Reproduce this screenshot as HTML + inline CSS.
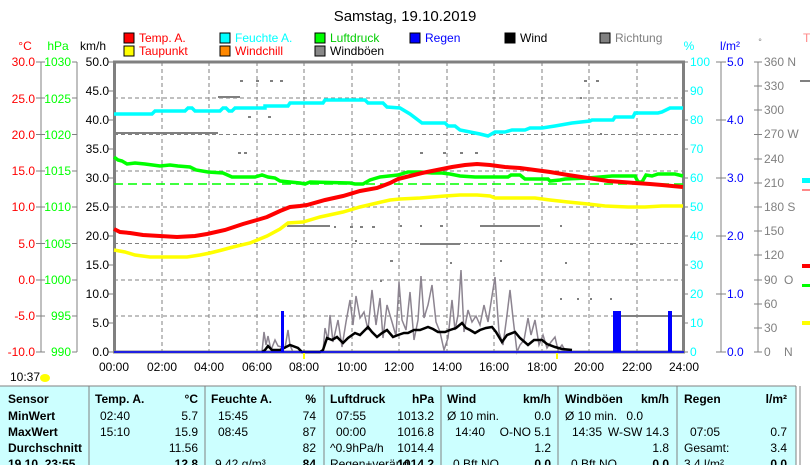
<!DOCTYPE html>
<html><head><meta charset="utf-8"><style>
html,body{margin:0;padding:0;background:#fff;width:810px;height:465px;overflow:hidden}
svg{display:block;font-family:"Liberation Sans",sans-serif}
.t{font-family:"Liberation Sans Narrow","Liberation Sans",sans-serif;font-size:12px}
.b{font-weight:bold}
</style></head><body>
<svg width="810" height="465" viewBox="0 0 810 465" xmlns="http://www.w3.org/2000/svg">
<text x="405" y="21" text-anchor="middle" font-size="15" fill="#000">Samstag, 19.10.2019</text>
<g font-size="12">
<rect x="124" y="33" width="10" height="10" fill="#f00" stroke="#000"/><text x="139" y="42" fill="#f00">Temp. A.</text>
<rect x="220" y="33" width="10" height="10" fill="#0ff" stroke="#000"/><text x="235" y="42" fill="#0ff">Feuchte A.</text>
<rect x="315" y="33" width="10" height="10" fill="#0f0" stroke="#000"/><text x="330" y="42" fill="#0c0">Luftdruck</text>
<rect x="410" y="33" width="10" height="10" fill="#00f" stroke="#000"/><text x="425" y="42" fill="#00f">Regen</text>
<rect x="505" y="33" width="10" height="10" fill="#000" stroke="#000"/><text x="520" y="42" fill="#000">Wind</text>
<rect x="600" y="33" width="10" height="10" fill="#808080" stroke="#000"/><text x="615" y="42" fill="#808080">Richtung</text>
<rect x="124" y="46" width="10" height="10" fill="#ff0" stroke="#000"/><text x="139" y="55" fill="#f00">Taupunkt</text>
<rect x="220" y="46" width="10" height="10" fill="#f80" stroke="#000"/><text x="235" y="55" fill="#f00">Windchill</text>
<rect x="315" y="46" width="10" height="10" fill="#888" stroke="#000"/><text x="330" y="55" fill="#000">Windböen</text>
<text x="25" y="50" text-anchor="middle" fill="#f00">°C</text>
<text x="58" y="50" text-anchor="middle" fill="#0f0">hPa</text>
<text x="93" y="50" text-anchor="middle" fill="#000">km/h</text>
<text x="689" y="50" text-anchor="middle" fill="#0ff">%</text>
<text x="730" y="50" text-anchor="middle" fill="#00f">l/m²</text>
<text x="760" y="45" text-anchor="middle" fill="#808080" font-size="9">°</text>
<text x="803" y="42" fill="#f88">T</text>
</g>
<g stroke="#808080" stroke-dasharray="4,3" stroke-width="1">
<line x1="114" y1="98" x2="684" y2="98"/><line x1="114" y1="134.5" x2="684" y2="134.5"/>
<line x1="114" y1="171" x2="684" y2="171"/><line x1="114" y1="207" x2="684" y2="207"/>
<line x1="114" y1="243.5" x2="684" y2="243.5"/><line x1="114" y1="280" x2="684" y2="280"/>
<line x1="114" y1="316" x2="684" y2="316"/>
<line x1="162" y1="62" x2="162" y2="352"/><line x1="209" y1="62" x2="209" y2="352"/>
<line x1="257" y1="62" x2="257" y2="352"/><line x1="304" y1="62" x2="304" y2="352"/>
<line x1="352" y1="62" x2="352" y2="352"/><line x1="399" y1="62" x2="399" y2="352"/>
<line x1="447" y1="62" x2="447" y2="352"/><line x1="494" y1="62" x2="494" y2="352"/>
<line x1="542" y1="62" x2="542" y2="352"/><line x1="589" y1="62" x2="589" y2="352"/>
<line x1="637" y1="62" x2="637" y2="352"/>
</g>
<g stroke="#808080" fill="none">
<line x1="41" y1="62" x2="41" y2="352"/><line x1="77" y1="62" x2="77" y2="352"/>
<line x1="721" y1="62" x2="721" y2="352"/><line x1="758" y1="62" x2="758" y2="352"/>
<rect x="114.5" y="62" width="569" height="290" stroke-width="3"/>
</g>
<g stroke="#808080">
<path d="M36 62h9M36 98h9M36 134.5h9M36 171h9M36 207h9M36 243.5h9M36 280h9M36 316h9M36 352h9"/>
<path d="M72 62h5M72 98h5M72 134.5h5M72 171h5M72 207h5M72 243.5h5M72 280h5M72 316h5M72 352h5"/>
<path d="M108 62h6M108 91h6M108 120h6M108 149h6M108 178h6M108 207h6M108 236h6M108 265h6M108 294h6M108 323h6M108 352h6"/>
<path d="M684 91h4M684 120h4M684 149h4M684 178h4M684 207h4M684 236h4M684 265h4M684 294h4M684 323h4M684 62h4M684 352h4"/>
<path d="M716 62h10M716 120h10M716 178h10M716 236h10M716 294h10M716 352h10"/>
<path d="M754 62h8M754 86h8M754 110h8M754 134.5h8M754 159h8M754 183h8M754 207h8M754 231h8M754 255h8M754 280h8M754 304h8M754 328h8M754 352h8"/>
</g>
<g font-size="12" fill="#f00" text-anchor="end">
<text x="35" y="66">30.0</text><text x="35" y="103">25.0</text><text x="35" y="139">20.0</text><text x="35" y="175">15.0</text><text x="35" y="211">10.0</text><text x="35" y="248">5.0</text><text x="35" y="284">0.0</text><text x="35" y="320">-5.0</text><text x="35" y="356">-10.0</text>
</g>
<g font-size="12" fill="#0f0" text-anchor="end">
<text x="71" y="66">1030</text><text x="71" y="103">1025</text><text x="71" y="139">1020</text><text x="71" y="175">1015</text><text x="71" y="211">1010</text><text x="71" y="248">1005</text><text x="71" y="284">1000</text><text x="71" y="320">995</text><text x="71" y="356">990</text>
</g>
<g font-size="12" fill="#000" text-anchor="end">
<text x="109" y="66">50.0</text><text x="109" y="95">45.0</text><text x="109" y="124">40.0</text><text x="109" y="153">35.0</text><text x="109" y="182">30.0</text><text x="109" y="211">25.0</text><text x="109" y="240">20.0</text><text x="109" y="269">15.0</text><text x="109" y="298">10.0</text><text x="109" y="327">5.0</text><text x="109" y="356">0.0</text>
</g>
<g font-size="12" fill="#0ff">
<text x="690" y="66">100</text><text x="690" y="95">90</text><text x="690" y="124">80</text><text x="690" y="153">70</text><text x="690" y="182">60</text><text x="690" y="211">50</text><text x="690" y="240">40</text><text x="690" y="269">30</text><text x="690" y="298">20</text><text x="690" y="327">10</text><text x="690" y="356">0</text>
</g>
<g font-size="12" fill="#00f">
<text x="727" y="66">5.0</text><text x="727" y="124">4.0</text><text x="727" y="182">3.0</text><text x="727" y="240">2.0</text><text x="727" y="298">1.0</text><text x="727" y="356">0.0</text>
</g>
<g font-size="12" fill="#808080">
<text x="764" y="66">360 N</text><text x="764" y="90">330</text><text x="764" y="114">300</text><text x="764" y="138">270 W</text><text x="764" y="163">240</text><text x="764" y="187">210</text><text x="764" y="211">180 S</text><text x="764" y="235">150</text><text x="764" y="259">120</text><text x="764" y="284">90&#160; O</text><text x="764" y="308">60</text><text x="764" y="332">30</text><text x="764" y="356">0&#160;&#160;&#160; N</text>
</g>
<g font-size="12" fill="#000" text-anchor="middle">
<text x="114" y="371">00:00</text><text x="162" y="371">02:00</text><text x="209" y="371">04:00</text><text x="257" y="371">06:00</text><text x="304" y="371">08:00</text><text x="352" y="371">10:00</text><text x="399" y="371">12:00</text><text x="447" y="371">14:00</text><text x="494" y="371">16:00</text><text x="542" y="371">18:00</text><text x="589" y="371">20:00</text><text x="637" y="371">22:00</text><text x="684" y="371">24:00</text>
</g>
<g stroke="#808080" stroke-width="2">
<line x1="114" y1="133" x2="218" y2="133"/><line x1="218" y1="97" x2="240" y2="97"/>
<line x1="287" y1="226" x2="330" y2="226"/><line x1="621" y1="316" x2="683" y2="316"/>
</g>
<g fill="#808080">
<rect x="240" y="80" width="3" height="2"/><rect x="256" y="80" width="3" height="2"/><rect x="270" y="80" width="3" height="2"/><rect x="280" y="80" width="3" height="2"/>
<rect x="248" y="116" width="3" height="2"/><rect x="268" y="116" width="3" height="2"/><rect x="238" y="152" width="3" height="2"/><rect x="244" y="152" width="3" height="2"/>
<rect x="334" y="226" width="2" height="2"/><rect x="350" y="226" width="3" height="2"/><rect x="360" y="226" width="3" height="2"/><rect x="372" y="226" width="3" height="2"/>
<rect x="420" y="152" width="3" height="2"/><rect x="443" y="152" width="3" height="2"/><rect x="460" y="152" width="3" height="2"/><rect x="475" y="152" width="3" height="2"/>
<rect x="400" y="225" width="2" height="2"/><rect x="420" y="225" width="2" height="2"/><rect x="440" y="225" width="3" height="2"/><rect x="480" y="225" width="60" height="2"/><rect x="560" y="225" width="2" height="2"/>
<rect x="390" y="260" width="3" height="2"/><rect x="420" y="243" width="40" height="2"/><rect x="450" y="262" width="2" height="2"/><rect x="500" y="260" width="2" height="2"/><rect x="565" y="262" width="2" height="2"/>
<rect x="560" y="298" width="2" height="2"/><rect x="577" y="298" width="2" height="2"/><rect x="590" y="298" width="2" height="2"/><rect x="610" y="298" width="2" height="2"/>
<rect x="584" y="80" width="3" height="2"/><rect x="596" y="80" width="3" height="2"/><rect x="600" y="133" width="2" height="2"/><rect x="580" y="97" width="2" height="2"/>
<rect x="630" y="243" width="3" height="2"/><rect x="355" y="240" width="2" height="2"/><rect x="380" y="280" width="2" height="2"/>
</g>
<line x1="114" y1="184" x2="684" y2="184" stroke="#0f0" stroke-width="1.5" stroke-dasharray="9,5"/>
<polyline fill="none" stroke="#0ff" stroke-width="3.5" points="114,114 152,114 155,111 185,111 188,108 192,108 195,111 220,111 223,108 226,108 229,111 232,111 235,108 265,108 265,106 288,106 290,103 323,103 325,100 365,100 368,103 383,103 387,107 400,108 410,114 422,123 445,123 448,126 455,126 460,130 480,134 488,136 495,132 505,132 512,130 525,130 530,128 542,128 555,126 572,123 590,121 592,120 613,120 615,117 633,117 635,113 658,113 662,112 670,108 683,108"/>
<polyline fill="none" stroke="#0f0" stroke-width="3.5" points="114,157 118,160 122,161 127,164 135,163 145,164 160,166 170,165 178,166 190,167 196,170 208,172 223,173 232,177 255,177 262,175 268,177 275,178 280,181 300,183 305,184 310,182 350,183 355,184 363,184 370,180 380,177 398,175 408,172 420,172 432,173 442,173 450,174 460,176 475,177 508,177 511,175 520,175 525,179 548,179 550,181 560,180 565,179 588,178 600,177 612,176 635,176 638,182 642,182 646,175 652,176 658,174 675,174 683,176"/>
<polyline fill="none" stroke="#f00" stroke-width="4" points="114,229 120,232 130,233 143,235 160,236 177,237 195,236 207,234 225,230 243,224 257,220 267,217 280,211 290,207 300,206 307,205 325,200 343,196 360,191 377,188 390,183 398,179 410,176 422,173 437,170 452,167 465,165 477,164 490,165 505,167 520,168 535,170 550,172 568,175 588,178 608,181 622,182 635,183 650,184 662,185 672,186 683,187"/>
<polyline fill="none" stroke="#ff0" stroke-width="3.5" points="114,250 125,252 135,255 150,257 170,257 187,257 200,255 210,253 222,250 233,247 250,243 267,236 280,229 288,223 303,222 320,217 343,212 360,207 377,203 390,200 400,199 420,198 445,196 460,195 477,195 490,196 495,198 520,198 535,198 550,200 568,202 588,204 605,206 628,207 645,207 662,206 673,206 683,206"/>
<polyline fill="none" stroke="#8c8490" stroke-width="1.5" points="262,352 264,332 266,345 268,336 271,350 275,340 278,346 285,348 288,330 290,345 293,352 300,352 323,352 325,328 328,340 330,315 333,342 338,320 342,347 346,322 350,300 353,325 356,296 360,318 364,312 368,330 372,290 376,325 380,298 383,338 387,305 392,322 396,336 399,282 402,320 406,330 410,292 414,340 418,320 421,276 424,318 428,305 432,285 436,322 440,332 444,350 448,338 452,300 455,330 458,315 461,270 464,332 468,310 472,322 476,316 480,325 484,305 488,322 492,296 495,277 499,332 503,345 507,315 510,290 513,318 517,352 520,345 524,340 528,318 531,335 535,320 539,345 543,335 547,348 551,342 555,337 558,350 562,345 566,352 575,352"/>
<polyline fill="none" stroke="#000" stroke-width="2.5" points="262,352 265,350 268,346 272,350 280,350 290,345 298,348 302,352 320,352 323,350 327,338 332,340 337,337 343,343 348,338 355,333 360,335 368,327 372,332 377,337 382,333 387,330 393,337 398,335 404,333 408,333 414,330 420,330 428,327 433,329 438,332 445,332 450,330 456,328 462,323 466,328 470,330 475,333 480,330 486,328 492,327 496,332 502,342 507,335 515,332 520,338 528,345 534,340 542,340 547,344 555,347 562,349 572,350"/>
<g fill="#00f">
<rect x="281" y="311" width="3" height="41"/>
<rect x="613" y="311" width="8" height="41"/>
<rect x="668" y="311" width="4" height="41"/>
</g>
<line x1="114" y1="352" x2="684" y2="352" stroke="#00f" stroke-width="1.5"/>
<rect x="303" y="353" width="2" height="6" fill="#ff0"/><rect x="556" y="353" width="2" height="6" fill="#ff0"/>
<g>
<rect x="800" y="80" width="10" height="2" fill="#808080"/>
<rect x="802" y="178" width="8" height="5" fill="#0ff"/><rect x="802" y="189" width="8" height="2" fill="#f88"/>
<rect x="802" y="264" width="8" height="4" fill="#f00"/><rect x="802" y="284" width="8" height="3" fill="#0f0"/>
<rect x="802" y="321" width="8" height="4" fill="#ff0"/>
</g>
<text x="10" y="381" font-size="12" fill="#000">10:37</text>
<ellipse cx="45" cy="378" rx="5" ry="4" fill="#ff0"/>
<rect x="0" y="386" width="796" height="79" fill="#ccffff"/>
<line x1="0" y1="386" x2="796" y2="386" stroke="#808080"/>
<g stroke="#808080">
<line x1="89" y1="386" x2="89" y2="465"/><line x1="205" y1="386" x2="205" y2="465"/>
<line x1="324" y1="386" x2="324" y2="465"/><line x1="441" y1="386" x2="441" y2="465"/>
<line x1="558" y1="386" x2="558" y2="465"/><line x1="677" y1="386" x2="677" y2="465"/>
<line x1="796" y1="386" x2="796" y2="465"/><line x1="800" y1="386" x2="800" y2="465"/>
</g>
<g class="t" fill="#000">
<g class="b">
<text x="8" y="403">Sensor</text><text x="8" y="420">MinWert</text><text x="8" y="436">MaxWert</text><text x="8" y="452">Durchschnitt</text><text x="8" y="468">19.10. 23:55</text>
<text x="95" y="403">Temp. A.</text><text x="198" y="403" text-anchor="end">°C</text>
<text x="211" y="403">Feuchte A.</text><text x="316" y="403" text-anchor="end">%</text>
<text x="330" y="403">Luftdruck</text><text x="434" y="403" text-anchor="end">hPa</text>
<text x="447" y="403">Wind</text><text x="551" y="403" text-anchor="end">km/h</text>
<text x="565" y="403">Windböen</text><text x="669" y="403" text-anchor="end">km/h</text>
<text x="684" y="403">Regen</text><text x="787" y="403" text-anchor="end">l/m²</text>
<text x="198" y="468" text-anchor="end">12.8</text><text x="316" y="468" text-anchor="end">84</text><text x="434" y="468" text-anchor="end">1014.2</text><text x="551" y="468" text-anchor="end">0.0</text><text x="669" y="468" text-anchor="end">0.0</text><text x="787" y="468" text-anchor="end">0.0</text>
</g>
<text x="100" y="420">02:40</text><text x="198" y="420" text-anchor="end">5.7</text>
<text x="100" y="436">15:10</text><text x="198" y="436" text-anchor="end">15.9</text>
<text x="198" y="452" text-anchor="end">11.56</text>
<text x="218" y="420">15:45</text><text x="316" y="420" text-anchor="end">74</text>
<text x="218" y="436">08:45</text><text x="316" y="436" text-anchor="end">87</text>
<text x="316" y="452" text-anchor="end">82</text>
<text x="215" y="468">9.42 g/m³</text>
<text x="336" y="420">07:55</text><text x="434" y="420" text-anchor="end">1013.2</text>
<text x="336" y="436">00:00</text><text x="434" y="436" text-anchor="end">1016.8</text>
<text x="330" y="452">^0.9hPa/h</text><text x="434" y="452" text-anchor="end">1014.4</text>
<text x="330" y="468">Regen+veränd</text>
<text x="447" y="420">Ø 10 min.</text><text x="551" y="420" text-anchor="end">0.0</text>
<text x="455" y="436">14:40</text><text x="551" y="436" text-anchor="end">O-NO 5.1</text>
<text x="551" y="452" text-anchor="end">1.2</text>
<text x="453" y="468">0 Bft NO</text>
<text x="565" y="420">Ø 10 min.</text><text x="643" y="420" text-anchor="end">0.0</text>
<text x="572" y="436">14:35</text><text x="669" y="436" text-anchor="end">W-SW 14.3</text>
<text x="669" y="452" text-anchor="end">1.8</text>
<text x="571" y="468">0 Bft NO</text>
<text x="690" y="436">07:05</text><text x="787" y="436" text-anchor="end">0.7</text>
<text x="684" y="452">Gesamt:</text><text x="787" y="452" text-anchor="end">3.4</text>
<text x="684" y="468">3.4 l/m²</text>
</g>
</svg>
</body></html>
